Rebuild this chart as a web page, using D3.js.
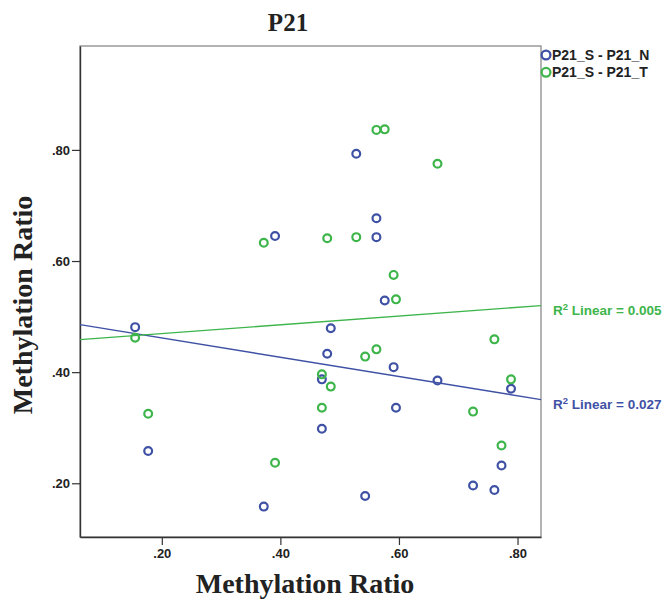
<!DOCTYPE html>
<html><head><meta charset="utf-8">
<script src="https://cdn.jsdelivr.net/npm/d3@7"></script>
<style>body{margin:0;background:#fff}svg{display:block}</style>
</head><body>
<svg id="c" width="669" height="607"></svg>
<script>
const title = "P21";
const seriesNames = ["P21_S - P21_N", "P21_S - P21_T"];
const seriesColors = ["#3f51a5", "#3db54a"];
const r2Labels = ["0.027", "0.005"];
const sValues = [0.155,0.177,0.372,0.391,0.470,0.470,0.479,0.485,0.528,0.543,0.562,0.562,0.576,0.591,0.595,0.665,0.725,0.761,0.773,0.789];
const nValues = [0.481,0.258,0.158,0.645,0.387,0.298,0.433,0.479,0.793,0.177,0.677,0.643,0.529,0.409,0.336,0.385,0.196,0.188,0.232,0.370];
const tValues = [0.462,0.325,0.633,0.237,0.396,0.336,0.641,0.374,0.643,0.428,0.836,0.441,0.837,0.575,0.531,0.775,0.329,0.459,0.268,0.387];
const xTicks = [0.2,0.4,0.6,0.8];
const yTicks = [0.2,0.4,0.6,0.8];
const xDomain = [0.062, 0.8396];
const yDomain = [0.1033, 0.987];

const svg = d3.select("#c");
const L = 80, R = 541, T = 46, B = 537;
const x = d3.scaleLinear().domain(xDomain).range([L, R]);
const y = d3.scaleLinear().domain(yDomain).range([B, T]);
const fmt = d => d3.format(".2f")(d).replace(/^0/, "");

// frame
svg.append("rect").attr("x", L).attr("y", T).attr("width", R - L).attr("height", B - T)
  .attr("fill", "#fff").attr("stroke", "#8a8a8a").attr("stroke-width", 1.3);

// axes
const xAxis = d3.axisBottom(x).tickValues(xTicks).tickFormat(fmt).tickSize(8).tickSizeOuter(0).tickPadding(4);
const yAxis = d3.axisLeft(y).tickValues(yTicks).tickFormat(fmt).tickSize(8).tickSizeOuter(0).tickPadding(2);
const gx = svg.append("g").attr("transform", `translate(0,${B})`).call(xAxis);
const gy = svg.append("g").attr("transform", `translate(${L},0)`).call(yAxis);
[gx, gy].forEach(g => {
  g.select(".domain").attr("stroke", "#333").attr("stroke-width", 1.4);
  g.selectAll(".tick line").attr("stroke", "#333").attr("stroke-width", 1.2);
  g.selectAll("text").attr("font-family", "Liberation Sans, Arial, sans-serif")
    .attr("font-weight", "bold").attr("font-size", 13).attr("fill", "#222");
});

// regression lines
const series = [nValues, tValues];
series.forEach((vals, i) => {
  const mx = d3.mean(sValues), my = d3.mean(vals);
  let sxy = 0, sxx = 0;
  sValues.forEach((sv, k) => { sxy += (sv - mx) * (vals[k] - my); sxx += (sv - mx) ** 2; });
  const b = sxy / sxx, a = my - b * mx;
  svg.append("line").attr("x1", x(xDomain[0])).attr("x2", x(xDomain[1]))
    .attr("y1", y(a + b * xDomain[0])).attr("y2", y(a + b * xDomain[1]))
    .attr("stroke", seriesColors[i]).attr("stroke-width", 1.4);
  const ly = y(a + b * xDomain[1]);
  const t = svg.append("text").attr("x", 553).attr("y", ly + 9)
    .attr("font-family", "Liberation Sans, Arial, sans-serif").attr("font-weight", "bold")
    .attr("font-size", 13.5).attr("fill", seriesColors[i]);
  t.append("tspan").text("R");
  t.append("tspan").attr("dy", -5).attr("font-size", 9.5).text("2");
  t.append("tspan").attr("dy", 5).text(" Linear = " + r2Labels[i]);
});

// points
series.forEach((vals, i) => {
  svg.append("g").selectAll("circle").data(vals).join("circle")
    .attr("cx", (d, k) => x(sValues[k])).attr("cy", d => y(d)).attr("r", 3.9)
    .attr("fill", "none").attr("stroke", seriesColors[i]).attr("stroke-width", 2.2);
});

// legend
seriesNames.forEach((n, i) => {
  const yy = 55 + i * 17.3;
  svg.append("circle").attr("cx", 546).attr("cy", yy).attr("r", 4.4)
    .attr("fill", "none").attr("stroke", seriesColors[i]).attr("stroke-width", 2.3);
  svg.append("text").attr("x", 552).attr("y", yy + 5).text(n)
    .attr("font-family", "Liberation Sans, Arial, sans-serif").attr("font-weight", "bold")
    .attr("font-size", 14).attr("fill", "#222");
});

// titles
svg.append("text").attr("x", 288).attr("y", 31).attr("text-anchor", "middle").text(title)
  .attr("font-family", "Liberation Serif, Times New Roman, serif").attr("font-weight", "bold")
  .attr("font-size", 25).attr("fill", "#222");
svg.append("text").attr("x", 305).attr("y", 593).attr("text-anchor", "middle").text("Methylation Ratio")
  .attr("font-family", "Liberation Serif, Times New Roman, serif").attr("font-weight", "bold")
  .attr("font-size", 28).attr("fill", "#222");
svg.append("text").attr("transform", "translate(32,305) rotate(-90)").attr("text-anchor", "middle")
  .text("Methylation Ratio")
  .attr("font-family", "Liberation Serif, Times New Roman, serif").attr("font-weight", "bold")
  .attr("font-size", 28).attr("fill", "#222");
</script>
</body></html>
